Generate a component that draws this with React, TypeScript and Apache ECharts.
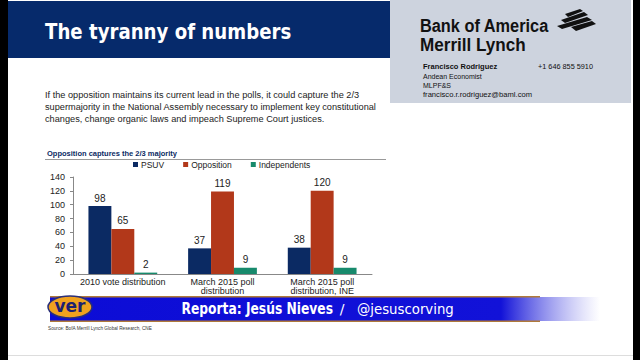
import React, { useEffect, useRef } from "react";
import * as echarts from "echarts";

const categories = ["2010 vote distribution", "March 2015 poll\ndistribution", "March 2015 poll\ndistribution, INE"];
const psuv = [98, 37, 38];
const opposition = [65, 119, 120];
const independents = [2, 9, 9];
const yTicks = { min: 0, max: 140, interval: 20 };

const paragraph = [
  "If the opposition maintains its current lead in the polls, it could capture the 2/3",
  "supermajority in the National Assembly necessary to implement key constitutional",
  "changes, change organic laws and impeach Supreme Court justices.",
];

export default function App() {
  const ref = useRef<HTMLDivElement>(null);
  useEffect(() => {
    if (!ref.current) return;
    const chart = echarts.init(ref.current, null, { renderer: "svg" });
    const lbl = { show: true, position: "top", color: "#222", fontSize: 10, fontFamily: "Liberation Sans", distance: 3 };
    const t = (x: number, y: number, text: string, font: string, fill = "#111", extra: any = {}) => ({
      type: "text", x, y, z: 11, ...extra,
      style: { text, fill, font, textVerticalAlign: "middle", ...(extra.style || {}) },
    });
    chart.setOption({
      animation: false,
      backgroundColor: "#ffffff",
      textStyle: { fontFamily: "Liberation Sans" },
      grid: { left: 73, right: 268, top: 177, bottom: 86 },
      legend: {
        top: 155,
        left: 128,
        itemWidth: 5,
        itemHeight: 5,
        itemGap: 19,
        icon: "rect",
        textStyle: { fontSize: 8.5, color: "#222", padding: [0, 0, 0, -2] },
        data: ["PSUV", "Opposition", "Independents"],
      },
      xAxis: {
        type: "category",
        data: categories,
        axisLine: { lineStyle: { color: "#888" } },
        axisTick: { lineStyle: { color: "#888" }, length: 3 },
        axisLabel: { fontSize: 9, color: "#222", margin: 3, lineHeight: 9.5, interval: 0 },
      },
      yAxis: {
        type: "value",
        ...yTicks,
        axisLine: { show: true, lineStyle: { color: "#888" } },
        axisTick: { show: true, lineStyle: { color: "#888" }, length: 3 },
        splitLine: { show: false },
        axisLabel: { fontSize: 9, color: "#222", margin: 8 },
      },
      series: [
        { name: "PSUV", type: "bar", data: psuv, itemStyle: { color: "#0b2a63" }, barGap: "0%", barCategoryGap: "31%", label: lbl },
        { name: "Opposition", type: "bar", data: opposition, itemStyle: { color: "#b2381a" }, label: lbl },
        { name: "Independents", type: "bar", data: independents, itemStyle: { color: "#178a6c" }, label: lbl },
      ],
      graphic: [
        { type: "rect", shape: { x: 0, y: 0, width: 8, height: 360 }, style: { fill: "#000" }, z: 10 },
        { type: "rect", shape: { x: 633, y: 0, width: 7, height: 360 }, style: { fill: "#000" }, z: 10 },
        { type: "rect", shape: { x: 8, y: 1, width: 382, height: 57 }, style: { fill: "#062a6b" }, z: 10 },
        t(45, 32, "The tyranny of numbers", "bold 21px 'DejaVu Sans'", "#fff", { scaleX: 0.865 }),
        { type: "rect", shape: { x: 390, y: 0, width: 241, height: 103 }, style: { fill: "#cdd3de" }, z: 10 },
        t(420, 26, "Bank of America", "bold 19px 'Liberation Sans'", "#111", { scaleX: 0.86 }),
        t(420, 45, "Merrill Lynch", "bold 19px 'Liberation Sans'", "#111", { scaleX: 0.9 }),
        { type: "polygon", shape: { points: [[565, 14], [580, 9], [583, 11], [568, 17]] }, style: { fill: "#111" }, z: 11 },
        { type: "polygon", shape: { points: [[561, 20], [584, 12], [588, 15], [565, 23]] }, style: { fill: "#111" }, z: 11 },
        { type: "polygon", shape: { points: [[557, 26], [587, 17], [592, 20], [562, 29]] }, style: { fill: "#111" }, z: 11 },
        { type: "polygon", shape: { points: [[571, 27], [592, 21], [596, 24], [576, 31]] }, style: { fill: "#111" }, z: 11 },
        t(423, 66, "Francisco Rodriguez", "bold 7.5px 'Liberation Sans'"),
        t(538, 66, "+1 646 855 5910", "7.3px 'Liberation Sans'"),
        t(423, 76, "Andean Economist", "7px 'Liberation Sans'"),
        t(423, 85, "MLPF&S", "7px 'Liberation Sans'"),
        t(423, 94, "francisco.r.rodriguez@baml.com", "7.6px 'Liberation Sans'"),
        ...paragraph.map((s, i) => t(45, 95 + i * 12, s, "9.2px 'Liberation Sans'", "#222")),
        t(47, 153, "Opposition captures the 2/3 majority", "bold 7.5px 'Liberation Sans'", "#0b2a63"),
        { type: "line", shape: { x1: 45, y1: 159.5, x2: 386, y2: 159.5 }, style: { stroke: "#999", lineWidth: 1 }, z: 11 },
        {
          type: "rect", shape: { x: 50, y: 297, width: 550, height: 24 }, z: 20,
          style: {
            fill: new echarts.graphic.LinearGradient(0, 0, 1, 0, [
              { offset: 0, color: "#0c0cd6" },
              { offset: 0.82, color: "#1212d8" },
              { offset: 1, color: "rgba(255,255,255,0.6)" },
            ]),
          },
        },
        { type: "rect", shape: { x: 50, y: 296, width: 490, height: 1.5 }, style: { fill: "#b07a3a" }, z: 21 },
        { type: "rect", shape: { x: 50, y: 320.5, width: 490, height: 1.5 }, style: { fill: "#b07a3a" }, z: 21 },
        { type: "text", x: 333, y: 309, z: 22, scaleX: 0.82, style: { text: "Reporta: Jesús Nieves", fill: "#fff", font: "bold 15px 'DejaVu Sans'", textAlign: "right", textVerticalAlign: "middle" } },
        { type: "text", x: 342, y: 309, z: 22, style: { text: "/", fill: "#fff", font: "14px 'DejaVu Sans'", textAlign: "center", textVerticalAlign: "middle" } },
        { type: "text", x: 357, y: 309, z: 22, style: { text: "@jesuscorving", fill: "#fff", font: "13.3px 'DejaVu Sans'", textVerticalAlign: "middle" } },
        { type: "ellipse", shape: { cx: 70, cy: 307, rx: 22, ry: 11 }, style: { fill: "#f0a21e", stroke: "#2a2f7a", lineWidth: 1.5 }, z: 23 },
        { type: "text", x: 70, y: 306, z: 24, style: { text: "ver", fill: "#1d2070", font: "bold 17px 'DejaVu Sans'", textAlign: "center", textVerticalAlign: "middle" } },
        t(48, 328, "Source: BofA Merrill Lynch Global Research, CNE", "4.7px 'Liberation Sans'", "#333"),
        { type: "line", shape: { x1: 8, y1: 355.5, x2: 633, y2: 355.5 }, style: { stroke: "#ddd", lineWidth: 1 }, z: 11 },
      ],
    });
    return () => chart.dispose();
  }, []);
  return <div ref={ref} style={{ width: 640, height: 360, position: "absolute", left: 0, top: 0 }} />;
}
